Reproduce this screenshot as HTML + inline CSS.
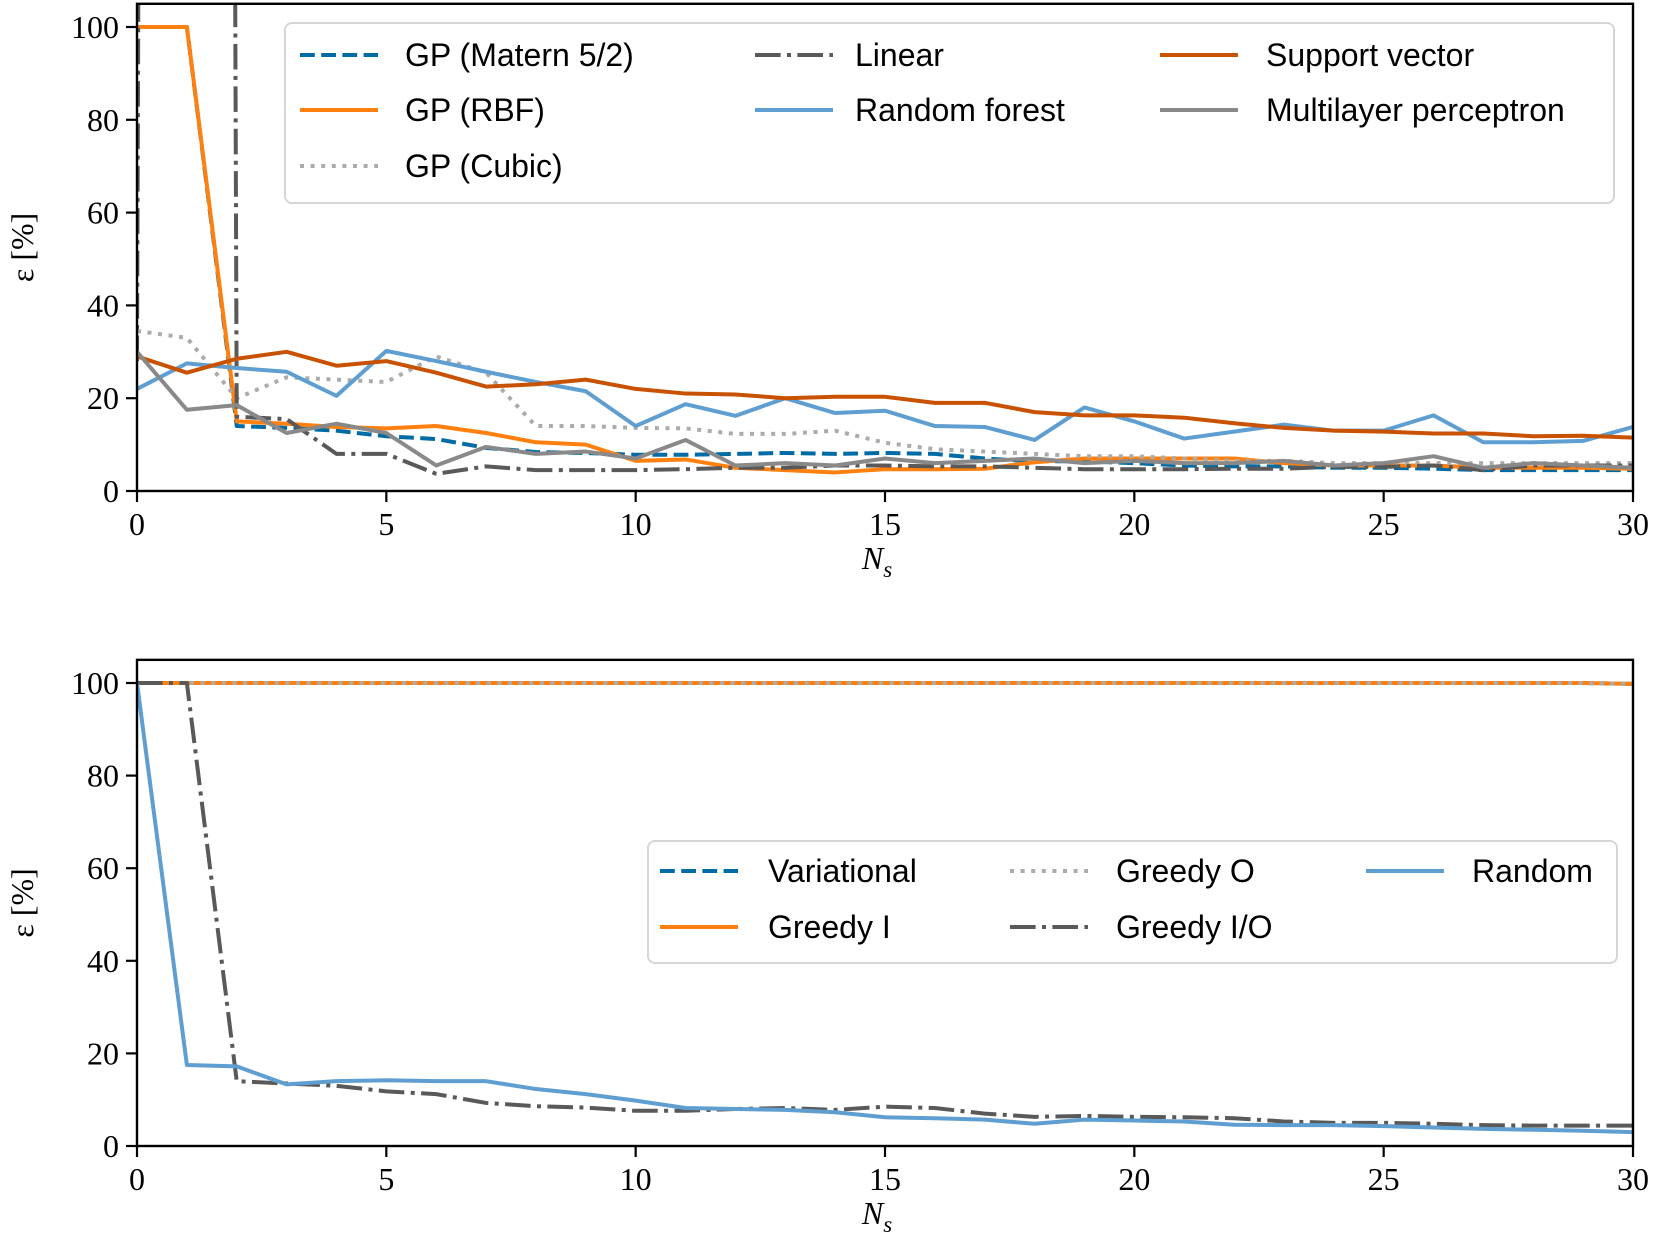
<!DOCTYPE html>
<html><head><meta charset="utf-8">
<style>
html,body{margin:0;padding:0;background:#fff;}
svg{display:block;}
.tick{font-family:"Liberation Serif",serif;font-size:32px;fill:#000;}
.leg{font-family:"Liberation Sans",sans-serif;font-size:32px;fill:#000;}
.lab{font-family:"Liberation Serif",serif;font-style:italic;font-size:32px;fill:#000;}
</style></head>
<body>
<svg id="chart" width="1654" height="1248" viewBox="0 0 1654 1248" xmlns="http://www.w3.org/2000/svg">
<defs>
<clipPath id="clipTop"><rect x="137" y="4" width="1496" height="487"/></clipPath>
<clipPath id="clipBot"><rect x="137" y="660" width="1496" height="486"/></clipPath>
</defs>
<g id="top"></g>
<g id="bot"></g>
</svg>
<script>
const xs = [0,1,2,3,4,5,6,7,8,9,10,11,12,13,14,15,16,17,18,19,20,21,22,23,24,25,26,27,28,29,30];
const xTicks = [0,5,10,15,20,25,30];
const yTicks = [0,20,40,60,80,100];
const gpMatern = [100,100,14,13.6,13,11.8,11.2,9.3,8.4,8.2,7.8,7.8,8,8.2,8,8.2,8,7,6.4,6.4,6,5.5,5.3,5.3,5,5,4.8,4.5,4.5,4.5,4.5];
const gpRBF = [100,100,15,14.5,13.8,13.5,14,12.5,10.5,10,6.5,6.8,5,4.5,4,4.7,4.7,4.8,6.2,7,7,7,7,6,5.5,5.5,5.5,5,5,5,4.8];
const gpCubic = [34.5,33,20,24.5,24,23.5,29,25.5,14,14,13.6,13.5,12.3,12.3,13,10.4,9,8.5,8,7.5,7.5,7,6.5,6.5,6,6,6,6,6,6,6];
const linear = [28,3000,16,15.5,8,8,3.7,5.3,4.5,4.5,4.5,4.7,5,5,5.5,5.5,5.3,5.3,5,4.7,4.7,4.7,4.8,4.8,5.2,5.2,5.5,4.5,5.5,5.5,5.5];
const randomForest = [22,27.5,26.5,25.7,20.5,30.2,28,25.7,23.5,21.5,14,18.7,16.2,20,16.8,17.3,14,13.8,11,18,15,11.3,12.8,14.3,13,13,16.3,10.5,10.5,10.8,13.8];
const supportVector = [29,25.5,28.5,30,27,28,25.5,22.5,23,24,22,21,20.8,20,20.3,20.3,19,19,17,16.3,16.3,15.8,14.6,13.6,13,12.8,12.4,12.4,11.8,11.9,11.5];
const mlp = [30,17.5,18.5,12.5,14.5,12.5,5.5,9.5,8,8.5,7,11,5.5,6,5.5,7,6,6.5,7,6,6.5,6,6,6.5,5.5,6,7.5,5,6,5.5,5];
const variational = [100,100,100,100,100,100,100,100,100,100,100,100,100,100,100,100,100,100,100,100,100,100,100,100,100,100,100,100,100,100,99.8];
const greedyI = [100,100,100,100,100,100,100,100,100,100,100,100,100,100,100,100,100,100,100,100,100,100,100,100,100,100,100,100,100,100,99.8];
const greedyO = [100,100,100,100,100,100,100,100,100,100,100,100,100,100,100,100,100,100,100,100,100,100,100,100,100,100,100,100,100,100,99.8];
const greedyIO = [100,100,14,13.5,13,11.8,11.2,9.3,8.6,8.3,7.6,7.6,8,8.2,7.8,8.5,8.2,7,6.3,6.5,6.3,6.2,6,5.3,5,5,4.8,4.5,4.4,4.4,4.4];
const randomSel = [100,17.5,17.2,13.3,14,14.2,14,14,12.3,11.2,9.8,8.2,8,7.8,7.3,6.2,6,5.7,4.8,5.7,5.5,5.3,4.6,4.5,4.5,4.3,4,3.7,3.5,3.3,3];

const NS='http://www.w3.org/2000/svg';
const LW=4;
const STY={
 dashed:'14.8 6.4',
 dotted:'4 6.6',
 dashdot:'25.6 6.4 4 6.4',
 solid:null
};
function mk(tag,attrs,parent){const e=document.createElementNS(NS,tag);for(const k in attrs)e.setAttribute(k,attrs[k]);parent.appendChild(e);return e;}
const X0=137,X1=1633;
function xScale(v){return X0+(v/30)*(X1-X0);}

function panel(g,yBase,yTop100,clipId,series,legend,legBox,name){
  const ys=v=>yBase-(v/100)*(yBase-yTop100);
  const top=ys(105);
  const cg=mk('g',{'clip-path':'url(#'+clipId+')'},g);
  
  
  series.forEach(s=>{
    const d=xs.map((x,i)=>(i?'L':'M')+xScale(x).toFixed(2)+' '+ys(s.data[i]).toFixed(2)).join(' ');
    const p=mk('path',{d:d,fill:'none',stroke:s.color,'stroke-width':LW,'stroke-linejoin':'round'},cg);
    if(STY[s.style])p.setAttribute('stroke-dasharray',STY[s.style]);
    
    
  });
  const fr=mk('rect',{x:X0,y:top,width:X1-X0,height:yBase-top,fill:'none',stroke:'#000','stroke-width':2.4},g);
  
  
  xTicks.forEach(t=>{
    const x=xScale(t);
    mk('line',{x1:x,x2:x,y1:yBase,y2:yBase+11,stroke:'#000','stroke-width':2.2},g);
    const tx=mk('text',{x:x,y:yBase+44,'text-anchor':'middle',class:'tick'},g);
    tx.textContent=t;
    
    
  });
  yTicks.forEach(t=>{
    const y=ys(t);
    mk('line',{x1:X0-11,x2:X0,y1:y,y2:y,stroke:'#000','stroke-width':2.2},g);
    const tx=mk('text',{x:X0-18,y:y+11,'text-anchor':'end',class:'tick'},g);
    tx.textContent=t;
    
    
  });
  const xl=mk('text',{x:(X0+X1)/2-8,y:yBase+78,'text-anchor':'middle',class:'lab'},g);
  xl.innerHTML='N<tspan font-size="23" dy="8">s</tspan>';
  
  
  const yc=(top+yBase)/2;
  const yl=mk('text',{x:0,y:0,'text-anchor':'middle',class:'tick','font-size':'29',transform:'translate(33,'+yc+') rotate(-90)'},g);
  yl.textContent='ε [%]';
  
  
  const lg=mk('g',{},g);
  
  
  mk('rect',{x:legBox[0],y:legBox[1],width:legBox[2],height:legBox[3],rx:7,fill:'#fff','fill-opacity':0.85,stroke:'#d6d6d6','stroke-width':2},lg);
  legend.forEach(e=>{
    const s=series.find(q=>q.id===e.id);
    const l=mk('line',{x1:e.hx,x2:e.hx+78,y1:e.y,y2:e.y,stroke:s.color,'stroke-width':LW},lg);
    if(STY[s.style])l.setAttribute('stroke-dasharray',STY[s.style]);
    const t=mk('text',{x:e.tx,y:e.y+11,class:'leg'},lg);
    t.textContent=s.label;
    
    
  });
}

const topSeries=[
 {id:'gp-matern',label:'GP (Matern 5/2)',data:gpMatern,color:'#006ba4',style:'dashed'},
 {id:'gp-rbf',label:'GP (RBF)',data:gpRBF,color:'#ff800e',style:'solid'},
 {id:'gp-cubic',label:'GP (Cubic)',data:gpCubic,color:'#ababab',style:'dotted'},
 {id:'linear',label:'Linear',data:linear,color:'#595959',style:'dashdot'},
 {id:'random-forest',label:'Random forest',data:randomForest,color:'#5f9ed1',style:'solid'},
 {id:'support-vector',label:'Support vector',data:supportVector,color:'#c85200',style:'solid'},
 {id:'mlp',label:'Multilayer perceptron',data:mlp,color:'#898989',style:'solid'}
];
panel(document.getElementById('top'),491,27,'clipTop',topSeries,[
 {id:'gp-matern',hx:300,tx:405,y:55},
 {id:'gp-rbf',hx:300,tx:405,y:110},
 {id:'gp-cubic',hx:300,tx:405,y:166},
 {id:'linear',hx:755,tx:855,y:55},
 {id:'random-forest',hx:755,tx:855,y:110},
 {id:'support-vector',hx:1160,tx:1266,y:55},
 {id:'mlp',hx:1160,tx:1266,y:110}
],[285,23,1329,180],'top');

const botSeries=[
 {id:'variational',label:'Variational',data:variational,color:'#006ba4',style:'dashed'},
 {id:'greedy-i',label:'Greedy I',data:greedyI,color:'#ff800e',style:'solid'},
 {id:'greedy-o',label:'Greedy O',data:greedyO,color:'#ababab',style:'dotted'},
 {id:'greedy-io',label:'Greedy I/O',data:greedyIO,color:'#595959',style:'dashdot'},
 {id:'random',label:'Random',data:randomSel,color:'#5f9ed1',style:'solid'}
];
panel(document.getElementById('bot'),1146,683,'clipBot',botSeries,[
 {id:'variational',hx:660,tx:768,y:871},
 {id:'greedy-i',hx:660,tx:768,y:927},
 {id:'greedy-o',hx:1010,tx:1116,y:871},
 {id:'greedy-io',hx:1010,tx:1116,y:927},
 {id:'random',hx:1366,tx:1472,y:871}
],[648,841,969,122],'bottom');
</script>
</body></html>
